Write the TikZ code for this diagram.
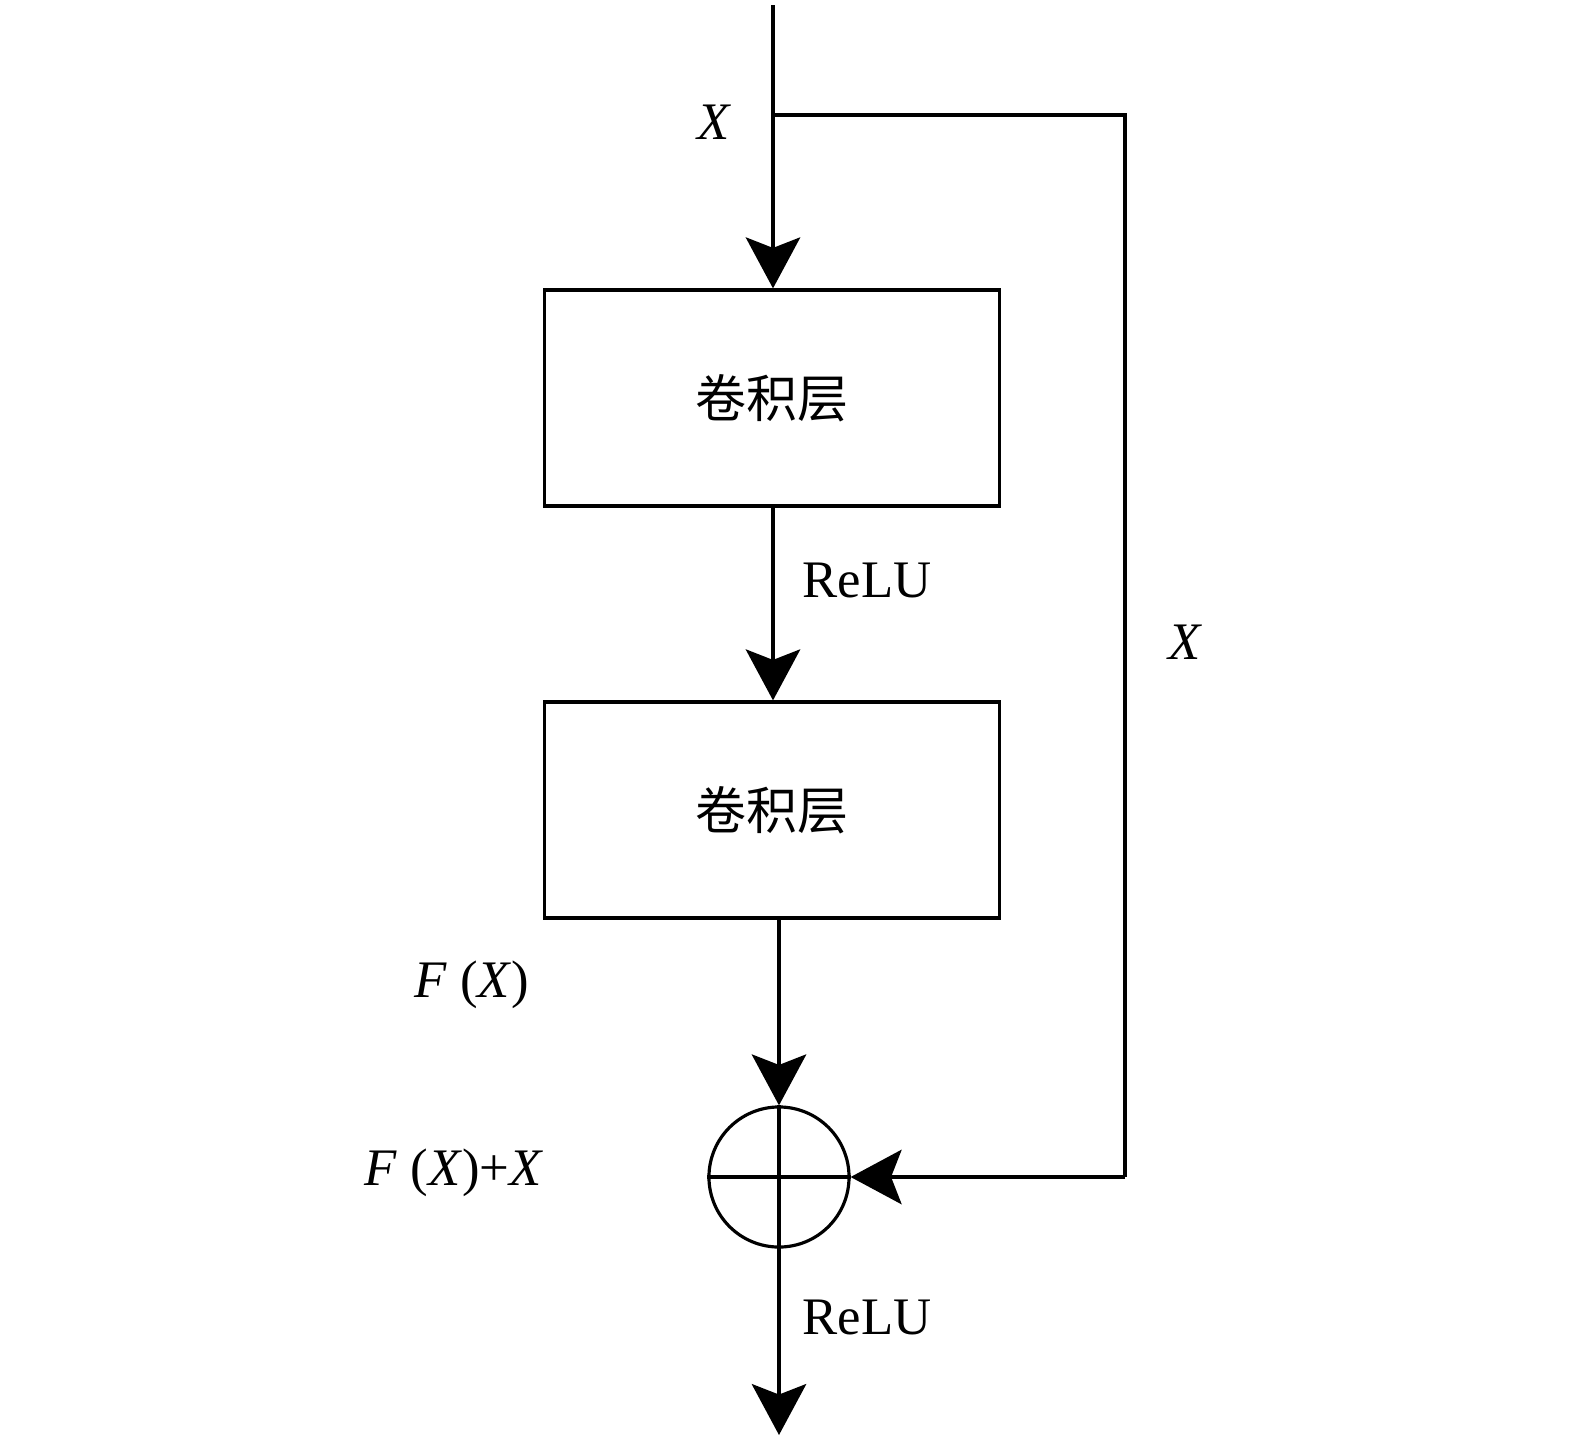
\documentclass[tikz,border=0pt]{standalone}
\usepackage{fontspec}
\setmainfont{Liberation Serif}
\newfontfamily\cjk{Noto Sans CJK SC}
\usetikzlibrary{arrows.meta, positioning, calc}

\begin{document}
\begin{tikzpicture}[x=0.01cm, y=-0.01cm,
    line width=0.9pt,
    flow/.style={-{Stealth[length=14.5pt, width=15.5pt, inset=3pt]}},
    layer/.style={draw, minimum width=4.55cm, minimum height=2.16cm, font=\cjk\fontsize{14.5}{17}\selectfont},
    lbl/.style={font=\fontsize{15}{18}\selectfont},
    sumnode/.style={draw, circle, minimum size=1.4cm, inner sep=0pt}]
    \useasboundingbox (0,0) rectangle (1575,1445);

    % --- Layers ---
    \node[layer] (conv1) at (772,398) {卷积层};
    \node[layer] (conv2) at (772,810) {卷积层};
    \node[sumnode] (sum) at (779,1177) {};
    \draw (sum.north) -- (sum.south);
    \draw (sum.west) -- (sum.east);

    % --- Helper points ---
    \coordinate (in) at (773,5);
    \coordinate (split) at (773,115);
    \coordinate (corner1) at (1125,115);
    \coordinate (corner2) at (1125,1177);
    \coordinate (out) at (779,1435);

    % --- Connectors ---
    \draw[flow] (in) -- (conv1.north -| in);
    \draw (split) -- (corner1) -- (corner2);
    \draw[flow] (corner2) -- (sum.east);
    \draw[flow] (conv1.south -| in) -- (conv2.north -| in);
    \draw[flow] (conv2.south -| sum) -- (sum.north);
    \draw[flow] (sum.south) -- (out);

    % --- Labels ---
    \node[lbl] (xin) at (714,122) {\textit{X}};
    \node[lbl] (relu1) at (867,580) {ReLU};
    \node[lbl] (xskip) at (1185,642) {\textit{X}};
    \node[lbl] (fx) at (472,985) {\textit{F} (\textit{X})};
    \node[lbl] (fxx) at (454,1173) {\textit{F} (\textit{X})+\textit{X}};
    \node[lbl] (relu2) at (867,1317) {ReLU};
\end{tikzpicture}
\end{document}
